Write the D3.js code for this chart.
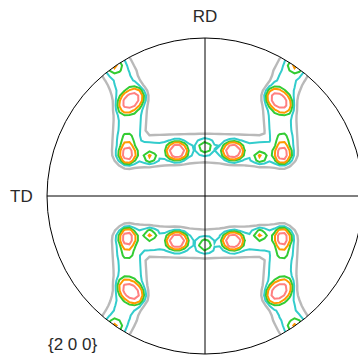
<!DOCTYPE html>
<html>
<head>
<meta charset="utf-8">
<script src="https://cdn.jsdelivr.net/npm/d3@7"></script>
<style>
  html, body { margin: 0; padding: 0; background: #fff; }
  svg { display: block; }
  text { font-family: "Liberation Sans", Arial, sans-serif; fill: #2a2a2a; }
</style>
</head>
<body>
<svg id="pf" width="358" height="360"></svg>
<script>
// {2 0 0} pole figure, stereographic projection in unit-disk coordinates
// (u to the right, v up towards RD). Texture components are listed for one
// quadrant; orthotropic sample symmetry mirrors them into the other three.

// Contour levels (multiples of random) and their colours
const levels = [1, 2, 3, 4, 6];
const levelColors = ["#b9b9b9", "#33cccc", "#33cc33", "#ff9900", "#ff8080"];

// Discrete orientation peaks: position, intensity above the ridge, spreads, tilt
const peakU    = [-0.468, -0.490, -0.492, -0.348, -0.177, 0.000, -0.570];
const peakV    = [ 0.605,  0.266,  0.355,  0.245,  0.284, 0.310,  0.820];
const peakAmp  = [ 5.0,    5.2,    1.0,    2.0,    6.5,   2.0,    1.9  ];
const peakSA   = [ 0.070,  0.037,  0.040,  0.031,  0.047, 0.037,  0.036];
const peakSB   = [ 0.046,  0.045,  0.040,  0.031,  0.041, 0.037,  0.036];
const peakTilt = [ 40,     0,      0,      0,      0,     0,      0    ];
const peakShape = 3;

// Ridges joining the peaks: end points, intensity at each end, spread
const ridgeFrom   = [[0.000, 0.304], [-0.487, 0.278], [-0.468, 0.601], [-0.530, 0.760]];
const ridgeTo     = [[-0.487, 0.278], [-0.468, 0.601], [-0.530, 0.760], [-0.640, 0.950]];
const ridgeAmpA   = [1.75, 2.4, 2.5, 2.15];
const ridgeAmpB   = [2.4,  2.5, 2.15, 2.6];
const ridgeSpread = [0.088, 0.088, 0.088, 0.092];
const ridgeShape = 4;

// Axis labels
const labels = { top: "RD", left: "TD", plane: "{2 0 0}" };

const svg = d3.select("#pf");
const CX = 205, CY = 196, R = 158;
const x = d3.scaleLinear().domain([-1, 1]).range([CX - R, CX + R]);
const y = d3.scaleLinear().domain([-1, 1]).range([CY + R, CY - R]);

const mirrors = [[1, 1], [-1, 1], [1, -1], [-1, -1]];

function segProj(px, py, ax, ay, bx, by) {
  const dx = bx - ax, dy = by - ay;
  const L = dx * dx + dy * dy;
  let t = L > 0 ? ((px - ax) * dx + (py - ay) * dy) / L : 0;
  t = Math.max(0, Math.min(1, t));
  const qx = ax + t * dx - px, qy = ay + t * dy - py;
  return [Math.sqrt(qx * qx + qy * qy), t];
}

function intensity(u, v) {
  let ridge = 0;
  for (let k = 0; k < ridgeAmpA.length; k++) {
    for (const [mx, my] of mirrors) {
      const [d, t] = segProj(u, v, mx * ridgeFrom[k][0], my * ridgeFrom[k][1], mx * ridgeTo[k][0], my * ridgeTo[k][1]);
      const A = ridgeAmpA[k] + (ridgeAmpB[k] - ridgeAmpA[k]) * t;
      const r = d / ridgeSpread[k];
      ridge = Math.max(ridge, A * Math.exp(-Math.pow(r, ridgeShape) / 2));
    }
  }
  let peaks = 0;
  for (let k = 0; k < peakAmp.length; k++) {
    const seen = new Set();
    for (const [mx, my] of mirrors) {
      const pu = mx * peakU[k], pv = my * peakV[k];
      const key = pu.toFixed(4) + "," + pv.toFixed(4);
      if (seen.has(key)) continue;
      seen.add(key);
      const th = (peakTilt[k] * mx * my) * Math.PI / 180;
      const du = u - pu, dv = v - pv;
      const a = (du * Math.cos(th) + dv * Math.sin(th)) / peakSA[k];
      const b = (-du * Math.sin(th) + dv * Math.cos(th)) / peakSB[k];
      const r = Math.sqrt(a * a + b * b);
      peaks += peakAmp[k] * Math.exp(-Math.pow(r, peakShape) / 2);
    }
  }
  return ridge + peaks;
}

// Sample the intensity on a regular grid covering the disk
const step = 5;
const x0 = CX - R - 10, y0 = CY - R - 10;
const n = Math.ceil((2 * R + 20) / step);
const values = new Float64Array(n * n);
for (let j = 0; j < n; j++) {
  for (let i = 0; i < n; i++) {
    const u = x.invert(x0 + (i + 0.5) * step);
    const v = y.invert(y0 + (j + 0.5) * step);
    values[j * n + i] = intensity(u, v);
  }
}

const contours = d3.contours().size([n, n]).thresholds(levels)(values);
const path = d3.geoPath(d3.geoIdentity().scale(step).translate([x0, y0]));

svg.append("clipPath").attr("id", "disk")
  .append("circle").attr("cx", x(0)).attr("cy", y(0)).attr("r", R);

svg.append("g").attr("clip-path", "url(#disk)")
  .selectAll("path")
  .data(contours)
  .join("path")
  .attr("d", path)
  .attr("fill", "none")
  .attr("stroke", (d, i) => levelColors[i])
  .attr("stroke-width", (d, i) => i === 0 ? 2.4 : 2)
  .attr("stroke-linejoin", "miter");

// Reference axes and projection circle
svg.append("line").attr("x1", x(0)).attr("x2", x(0)).attr("y1", y(1)).attr("y2", y(-1))
  .attr("stroke", "#000").attr("stroke-width", 1);
svg.append("line").attr("x1", x(-1)).attr("x2", x(1)).attr("y1", y(0)).attr("y2", y(0))
  .attr("stroke", "#000").attr("stroke-width", 1);
svg.append("circle").attr("cx", x(0)).attr("cy", y(0)).attr("r", R)
  .attr("fill", "none").attr("stroke", "#000").attr("stroke-width", 1);

svg.append("text").attr("x", x(0)).attr("y", 22).attr("text-anchor", "middle")
  .attr("font-size", 17).text(labels.top);
svg.append("text").attr("x", 10).attr("y", 202)
  .attr("font-size", 17).text(labels.left);
svg.append("text").attr("x", 48).attr("y", 350)
  .attr("font-size", 17).text(labels.plane);
</script>
</body>
</html>
